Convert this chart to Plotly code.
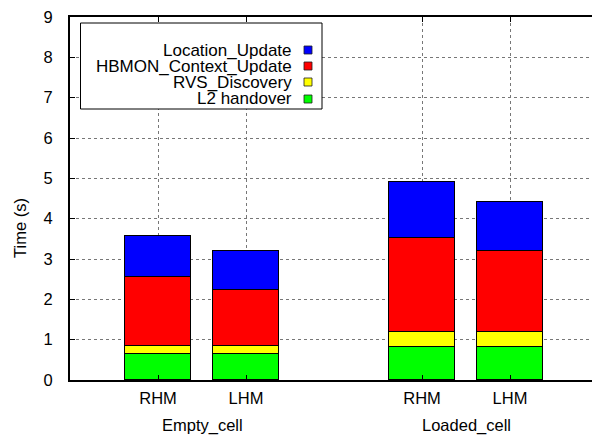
import plotly.graph_objects as go

# ---- data ----
groups = ["Empty_cell", "Loaded_cell"]
methods = ["RHM", "LHM", "RHM", "LHM"]
xpos = [1, 2, 4, 5]
group_pos = [1.5, 4.5]
series_names = ["L2 handover", "RVS_Discovery", "HBMON_Context_Update", "Location_Update"]
l2_handover = [0.64, 0.64, 0.81, 0.81]
rvs_discovery = [0.20, 0.20, 0.39, 0.39]
hbmon_context = [1.71, 1.40, 2.31, 2.01]
location_update = [1.01, 0.97, 1.41, 1.21]
series_values = [l2_handover, rvs_discovery, hbmon_context, location_update]
colors = ["#00ff00", "#ffff00", "#ff0000", "#0000ff"]
y_ticks = list(range(0, 10))

FONT = "Liberation Sans, Arial, Helvetica, sans-serif"
TICK_SIZE = 16.5
LEG_SIZE = 17

fig = go.Figure()
for name, vals, col in zip(series_names, series_values, colors):
    fig.add_trace(go.Bar(
        x=xpos, y=vals, name=name, width=0.76,
        marker=dict(color=col, line=dict(color="#000000", width=1)),
        showlegend=False,
    ))

W, H = 592, 436
L, R, T, B = 70, 0, 17, 56
pw, ph = W - L - R, H - T - B

def px_x(p):
    return (p - L) / pw

def px_y(p):
    return (H - B - p) / ph

shapes = []
annotations = []
# legend box
shapes.append(dict(type="rect", xref="paper", yref="paper",
                   x0=px_x(80.5), x1=px_x(322), y0=px_y(109), y1=px_y(23),
                   line=dict(color="black", width=1), fillcolor="white", layer="above"))
rows_y = [50, 66, 82, 99]
legend_order = list(reversed(range(len(series_names))))
for row, idx in zip(rows_y, legend_order):
    annotations.append(dict(xref="paper", yref="paper", x=px_x(294), y=px_y(row),
                            text=series_names[idx], showarrow=False, xanchor="right",
                            yanchor="middle",
                            font=dict(family=FONT, size=LEG_SIZE, color="black")))
    shapes.append(dict(type="rect", xref="paper", yref="paper",
                       x0=px_x(304), x1=px_x(312), y0=px_y(row + 4), y1=px_y(row - 4),
                       fillcolor=colors[idx], line=dict(color="#202020", width=0.8),
                       layer="above"))
# group labels
for g, gp in zip(groups, group_pos):
    annotations.append(dict(xref="x", yref="paper", x=gp, y=px_y(425), text=g,
                            showarrow=False, xanchor="center", yanchor="middle",
                            font=dict(family=FONT, size=TICK_SIZE, color="black")))
# y title
annotations.append(dict(xref="paper", yref="paper", x=px_x(20), y=px_y(228), text="Time (s)",
                        textangle=-90, showarrow=False, xanchor="center", yanchor="middle",
                        font=dict(family=FONT, size=TICK_SIZE, color="black")))

fig.update_layout(
    width=W, height=H,
    margin=dict(l=L, r=R, t=T, b=B, pad=0),
    paper_bgcolor="white", plot_bgcolor="white",
    barmode="stack", bargap=0,
    font=dict(family=FONT, size=TICK_SIZE, color="black"),
    shapes=shapes, annotations=annotations,
    showlegend=False,
)
fig.update_xaxes(
    range=[0, (W - L) / 88.0],
    tickvals=xpos, ticktext=methods,
    showgrid=True, gridcolor="#777777", griddash="dot", gridwidth=1,
    showline=True, linecolor="black", linewidth=2, mirror="ticks",
    ticks="inside", ticklen=5, tickcolor="black",
    ticklabelstandoff=2,
    tickfont=dict(family=FONT, size=TICK_SIZE, color="black"),
    zeroline=False,
)
fig.update_yaxes(
    range=[0, 9], tickvals=y_ticks,
    showgrid=True, gridcolor="#777777", griddash="dot", gridwidth=1,
    showline=True, linecolor="black", linewidth=2, mirror=False,
    ticks="inside", ticklen=5, tickcolor="black",
    ticklabelstandoff=12,
    tickfont=dict(family=FONT, size=TICK_SIZE, color="black"),
    zeroline=False,
)

fig.write_html(
    "out.html",
    config={"displayModeBar": False},
    post_script="document.body.style.margin='0';document.body.style.overflow='hidden';",
)
